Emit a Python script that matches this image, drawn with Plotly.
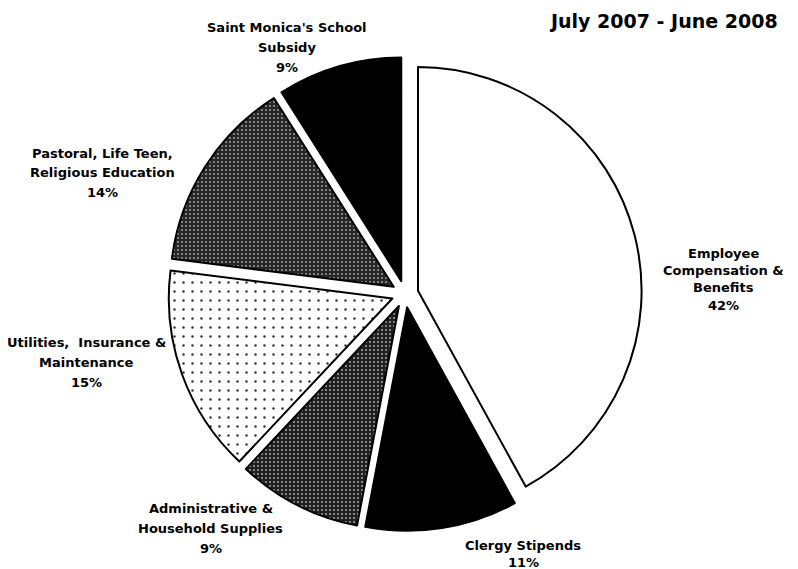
import plotly.graph_objects as go

# ---- data ----
categories = [
    "Employee Compensation & Benefits",
    "Clergy Stipends",
    "Administrative & Household Supplies",
    "Utilities, Insurance & Maintenance",
    "Pastoral, Life Teen, Religious Education",
    "Saint Monica's School Subsidy",
]
values = [42, 11, 9, 15, 14, 9]
label_lines = [
    ["Employee", "Compensation &", "Benefits", "42%"],
    ["Clergy Stipends", "11%"],
    ["Administrative &", "Household Supplies", "9%"],
    ["Utilities,  Insurance &", "Maintenance", "15%"],
    ["Pastoral, Life Teen,", "Religious Education", "14%"],
    ["Saint Monica's School", "Subsidy", "9%"],
]
title_text = "July 2007 - June 2008"

# ---- styling ----
# page body has an 8px margin, so the figure is sized to the visible area
OFF = 8
W, H = 798 - OFF, 569 - OFF
bg_colors = ["white", "black", "#202020", "white", "#262626", "black"]
fg_colors = ["white", "black", "#a8a8a8", "#333333", "#a0a0a0", "black"]
shapes = ["", "", ".", ".", ".", ""]
solidity = [0.1, 0.1, 0.2, 0.06, 0.2, 0.1]
sizes = [6, 6, 4, 9, 4, 6]
pulls = [0.06] * 6

# label anchor in screen px: (center x, first-line y, line spacing)
label_pos = [
    (723, 253, 17.5),
    (523, 545, 17),
    (211, 508, 20),
    (86, 342, 20),
    (102, 153, 19.5),
    (287, 28, 20),
]
FONT = "DejaVu Sans, Liberation Sans, Arial, sans-serif"

# pie center / box in screen px
pcx, pcy, box = 405, 294, 474
x0 = (pcx - box / 2 - OFF) / W
x1 = (pcx + box / 2 - OFF) / W
ytop = (pcy - box / 2 - OFF)
ybot = (pcy + box / 2 - OFF)

fig = go.Figure()
fig.add_trace(go.Pie(
    labels=categories,
    values=values,
    sort=False,
    direction="clockwise",
    rotation=0,
    pull=pulls,
    textinfo="none",
    hoverinfo="label+percent",
    showlegend=False,
    marker=dict(
        colors=bg_colors,
        line=dict(color="black", width=2),
        pattern=dict(shape=shapes, fgcolor=fg_colors, bgcolor=bg_colors,
                     solidity=solidity, size=sizes, fillmode="replace"),
    ),
    domain=dict(x=[x0, x1], y=[(H - ybot) / H, (H - ytop) / H]),
))

annotations = []
for lines, (cx, y0, sp) in zip(label_lines, label_pos):
    for i, ln in enumerate(lines):
        annotations.append(dict(
            x=(cx - OFF) / W, y=1 - (y0 + i * sp - OFF) / H,
            xref="paper", yref="paper",
            text="<b>" + ln.replace("&", "&amp;") + "</b>", showarrow=False,
            xanchor="center", yanchor="middle",
            font=dict(family=FONT, size=13, color="black"),
        ))
annotations.append(dict(
    x=(663 - OFF) / W, y=1, xref="paper", yref="paper",
    text="<b>" + title_text + "</b>", showarrow=False,
    xanchor="center", yanchor="top",
    font=dict(family=FONT, size=19, color="black"),
))

fig.update_layout(
    width=W, height=H,
    margin=dict(l=0, r=0, t=0, b=0),
    paper_bgcolor="white", plot_bgcolor="white",
    annotations=annotations,
)

fig.write_html("out.html")
